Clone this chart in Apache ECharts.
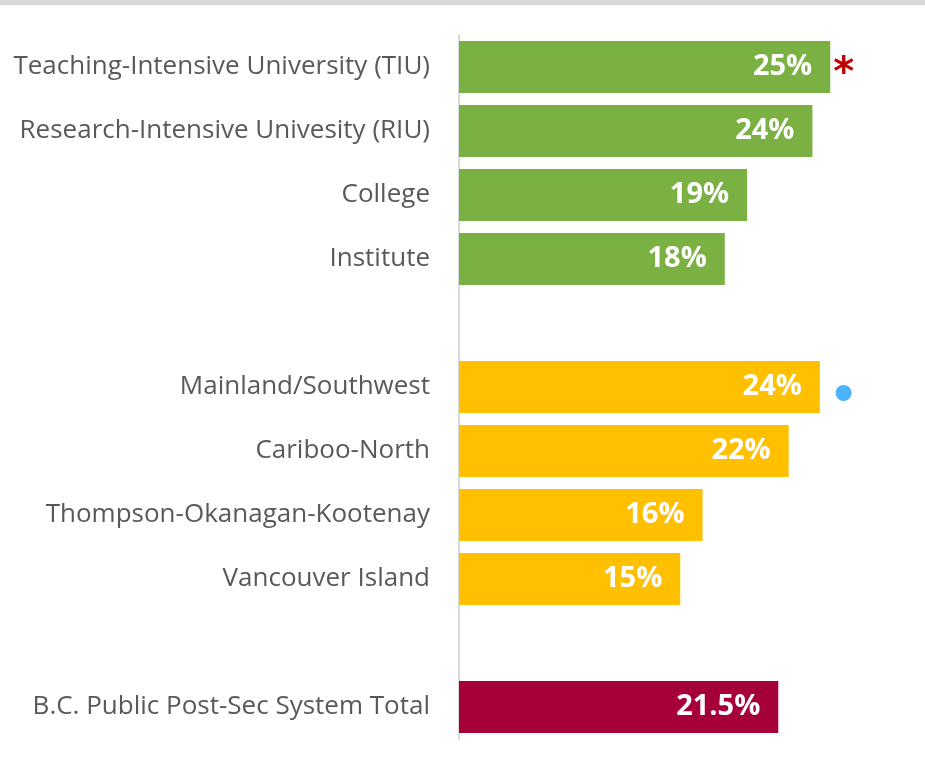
<!DOCTYPE html>
<html>
<head>
<meta charset="utf-8">
<script src="https://cdn.jsdelivr.net/npm/echarts@6/dist/echarts.min.js"></script>
<style>
html,body{margin:0;padding:0;background:#fff;}
#chart{width:925px;height:762px;}
</style>
</head>
<body>
<div id="chart"></div>
<script>
// Data
var categories = [
  'Teaching-Intensive University (TIU)',
  'Research-Intensive Univesity (RIU)',
  'College',
  'Institute',
  ' ',
  'Mainland/Southwest',
  'Cariboo-North',
  'Thompson-Okanagan-Kootenay',
  'Vancouver Island',
  '  ',
  'B.C. Public Post-Sec System Total'
];
var values = [25.0, 23.8, 19.4, 17.9, null, 24.3, 22.2, 16.4, 14.9, null, 21.5];
var valueLabels = ['25%', '24%', '19%', '18%', '', '24%', '22%', '16%', '15%', '', '21.5%'];
var groups = ['type', 'type', 'type', 'type', null, 'region', 'region', 'region', 'region', null, 'total'];
var groupColors = { type: '#7AB142', region: '#FFC000', total: '#A6003A' };
// Significance markers (asterisk / dot) drawn beside the bars
var markers = [
  { category: 'Teaching-Intensive University (TIU)', value: 25.9, kind: 'asterisk' },
  { category: 'Mainland/Southwest', value: 25.9, kind: 'dot' }
];

var chart = echarts.init(document.getElementById('chart'), null, { renderer: 'canvas' });

var barData = values.map(function (v, i) {
  return {
    value: v,
    itemStyle: { color: groups[i] ? groupColors[groups[i]] : 'transparent' },
    label: { formatter: valueLabels[i] }
  };
});

var markPointData = markers.map(function (m) {
  if (m.kind === 'asterisk') {
    return {
      coord: [m.value, m.category],
      symbol: 'circle',
      symbolSize: 1,
      itemStyle: { color: 'rgba(0,0,0,0)' },
      label: {
        show: true,
        formatter: '*',
        color: '#C00000',
        fontFamily: 'DejaVu Sans',
        fontWeight: 'bold',
        fontSize: 40,
        position: 'inside',
        offset: [0, 8]
      }
    };
  }
  return {
    coord: [m.value, m.category],
    symbol: 'circle',
    symbolSize: 16,
    symbolOffset: [0, 6],
    itemStyle: { color: '#4DB3FF' },
    label: { show: false }
  };
});

var option = {
  animation: false,
  backgroundColor: '#ffffff',
  graphic: [
    {
      type: 'rect',
      left: 0,
      top: 0,
      shape: { width: 925, height: 5 },
      style: { fill: '#D9D9D9' },
      silent: true
    }
  ],
  grid: {
    left: 459,
    top: 35,
    height: 704,
    right: 20.5,
    containLabel: false
  },
  xAxis: {
    type: 'value',
    min: 0,
    max: 30,
    show: false
  },
  yAxis: {
    type: 'category',
    data: categories,
    inverse: true,
    axisLine: { show: true, lineStyle: { color: '#D9D9D9', width: 2 } },
    axisTick: { show: false },
    axisLabel: {
      margin: 29,
      color: '#595959',
      fontFamily: 'Open Sans',
      fontSize: 26,
      padding: [4, 0, 0, 0]
    },
    splitLine: { show: false }
  },
  series: [
    {
      type: 'bar',
      data: barData,
      barCategoryGap: '18.75%',
      label: {
        show: true,
        position: 'insideRight',
        distance: 18,
        color: '#ffffff',
        fontFamily: 'Open Sans',
        fontWeight: 'bold',
        fontSize: 29
      },
      markPoint: {
        silent: true,
        data: markPointData
      }
    }
  ]
};

chart.setOption(option);
</script>
</body>
</html>
